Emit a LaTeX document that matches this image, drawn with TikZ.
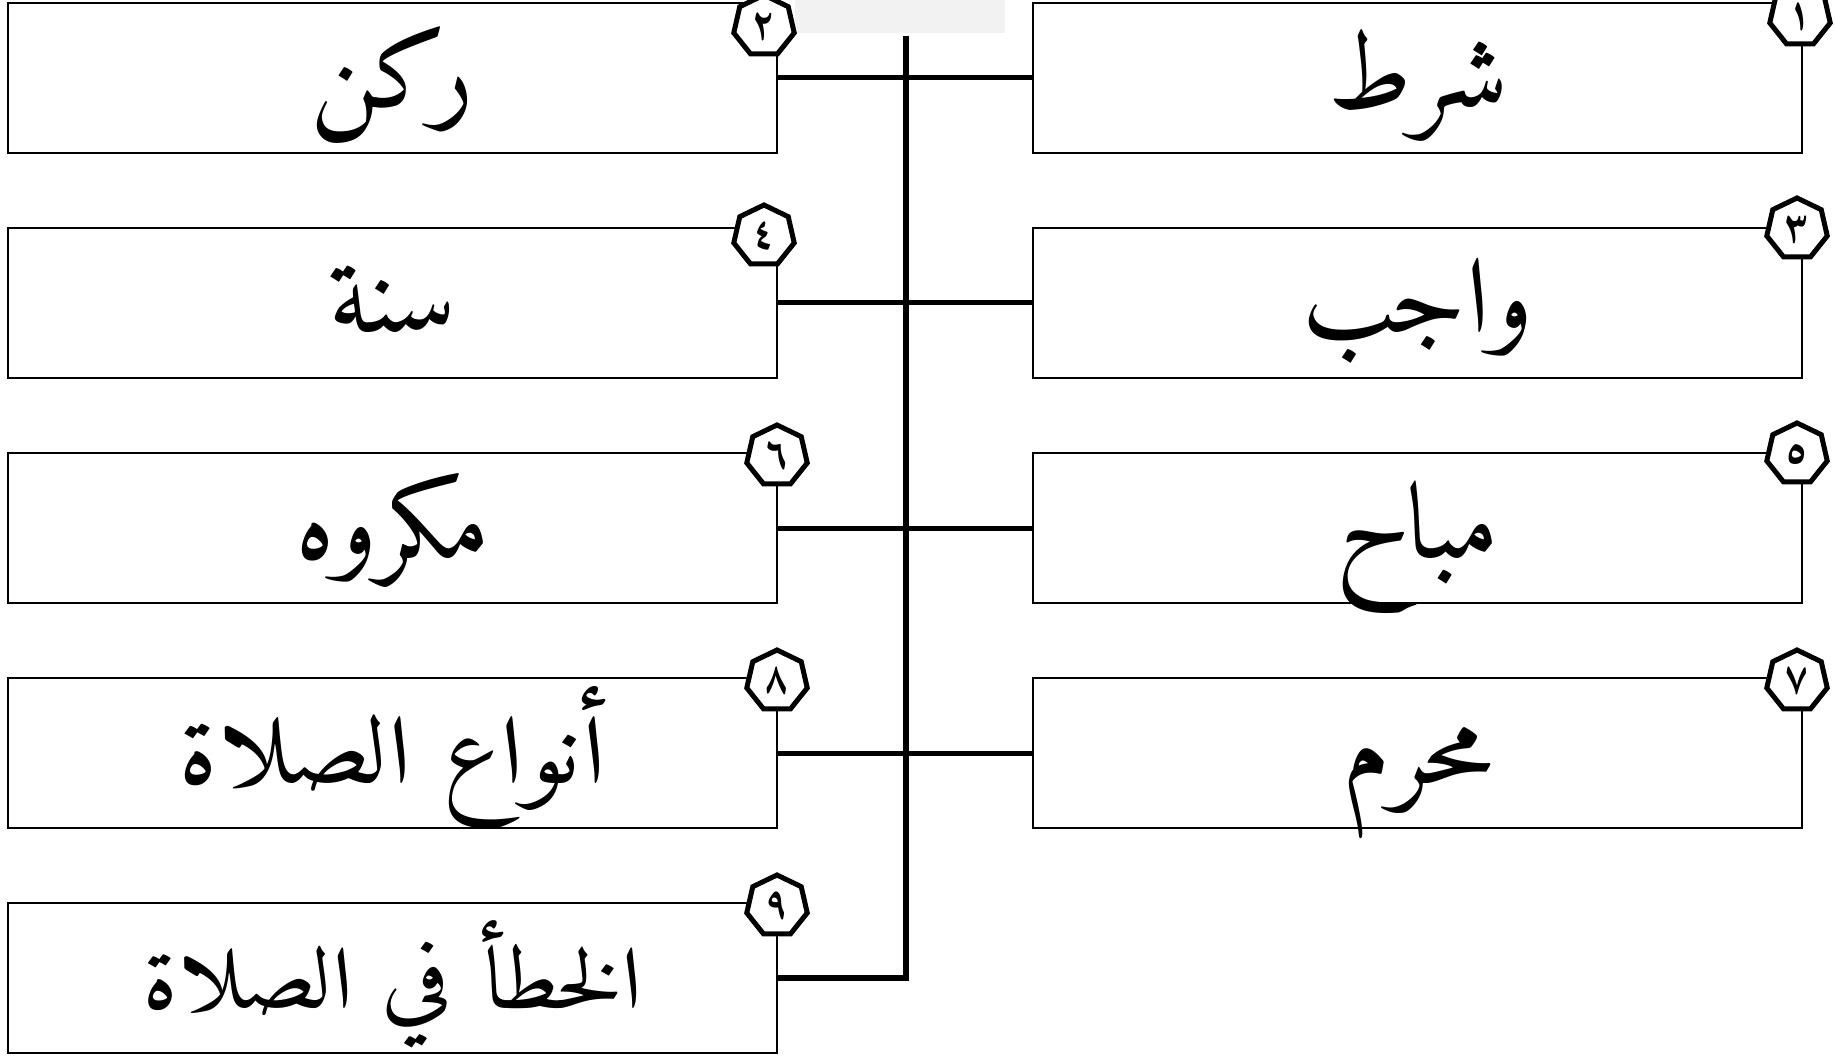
\documentclass[tikz,border=0pt]{standalone}
\usepackage{fontspec}
\usepackage{graphicx}
\usetikzlibrary{shapes.geometric}
\TeXXeTstate=1
\newfontfamily\arabicfont[Script=Arabic, BoldFont=Amiri-Bold.ttf]{Amiri-Regular.ttf}
\newcommand\arsquash[1]{\scalebox{1}[0.9]{\beginR #1\endR}}
\definecolor{topgray}{HTML}{F2F2F2}
\tikzset{
  box/.style={draw, line width=2.5pt, minimum width=769pt, minimum height=150pt,
    inner sep=0pt, text height=66pt, text depth=6pt,
    font=\arabicfont\fontsize{107}{120}\selectfont},
  lowbox/.style={box, text height=60pt, text depth=0pt,
    font=\arabicfont\fontsize{97}{120}\selectfont},
  badge/.style={regular polygon, regular polygon sides=7, draw, line width=5pt,
    fill=white, minimum size=62pt, inner sep=0pt,
    font=\arabicfont\bfseries\fontsize{42}{44}\selectfont},
  conn/.style={line width=5pt},
  bar/.style={line width=6pt, line join=miter},
}
\begin{document}
\begin{tikzpicture}[x=1pt,y=-1pt]
\useasboundingbox (0,0) rectangle (1835,1056);
\node[fill=topgray, minimum width=210pt, minimum height=33pt, inner sep=0pt, anchor=north west] (tab) at (795,0) {};
% boxes
\node[box] (L1) at (392.5,78) {\beginR ركن\endR};
\node[box] (L2) at (392.5,303) {\beginR سنة\endR};
\node[box] (L3) at (392.5,528) {\beginR مكروه\endR};
\node[box] (L4) at (392.5,753) {\arsquash{أنواع الصلاة}};
\node[lowbox] (L5) at (392.5,978) {\arsquash{الخطأ في الصلاة}};
\node[box] (R1) at (1417.5,78) {\beginR شرط\endR};
\node[box] (R2) at (1417.5,303) {\beginR واجب\endR};
\node[box] (R3) at (1417.5,528) {\beginR مباح\endR};
\node[box] (R4) at (1417.5,753) {\beginR محرم\endR};
% connectors
\draw[conn] (L1.east) -- (R1.west);
\draw[conn] (L2.east) -- (R2.west);
\draw[conn] (L3.east) -- (R3.west);
\draw[conn] (L4.east) -- (R4.west);
\coordinate (bartop) at (906,36);
\draw[bar] (bartop) |- (L5.east);
% badges
\node[badge] (B1) at (1800,16) {١};
\node[badge] (B2) at (764,26) {٢};
\node[badge] (B3) at (1797,229) {٣};
\node[badge] (B4) at (764,236) {٤};
\node[badge] (B5) at (1797,454) {٥};
\node[badge] (B6) at (777,456) {٦};
\node[badge] (B7) at (1797,681) {٧};
\node[badge] (B8) at (777,681) {٨};
\node[badge] (B9) at (777,906) {٩};
\end{tikzpicture}
\end{document}
